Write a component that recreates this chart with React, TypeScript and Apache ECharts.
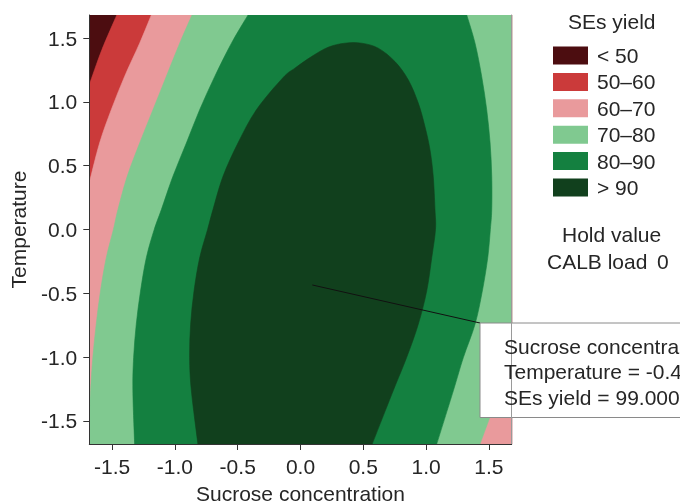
import React, { useEffect, useRef } from "react";
import * as echarts from "echarts";

// ---- axis data ----
const X_MIN = -1.682;
const X_MAX = 1.682;
const Y_MIN = -1.682;
const Y_MAX = 1.682;
const xTicks = [-1.5, -1.0, -0.5, 0.0, 0.5, 1.0, 1.5];
const yTicks = [-1.5, -1.0, -0.5, 0.0, 0.5, 1.0, 1.5];
const xName = "Sucrose concentration";
const yName = "Temperature";

// ---- legend / levels ----
const levelNames = ["< 50", "50–60", "60–70", "70–80", "80–90", "> 90"];
const levelColors = ["#4C0D10", "#CB3A3A", "#E99A9C", "#80C990", "#148040", "#11401D"];
const legendTitle = "SEs yield";
const holdTitle = "Hold value";
const holdName = "CALB load";
const holdValue = "0";

// ---- contour lines (data coordinates) ----
const contour50 = [[-1.463, 1.682], [-1.582, 1.409], [-1.682, 1.135]];
const contour60 = [
  [-1.188, 1.682], [-1.281, 1.461], [-1.401, 1.2], [-1.507, 0.939], [-1.6, 0.678], [-1.682, 0.365],
];
const contour70Left = [
  [-0.864, 1.682], [-0.962, 1.461], [-1.069, 1.2], [-1.175, 0.939], [-1.281, 0.678], [-1.38, 0.417],
  [-1.454, 0.156], [-1.49, 0.0], [-1.547, -0.222], [-1.593, -0.483], [-1.627, -0.743], [-1.654, -1.004],
  [-1.672, -1.265], [-1.682, -1.42],
];
const contour70Right = [[1.43, -1.682], [1.51, -1.469], [1.6, -1.25], [1.682, -1.02]];
const contour80Left = [
  [-0.418, 1.682], [-0.55, 1.461], [-0.683, 1.2], [-0.803, 0.939], [-0.909, 0.678], [-1.016, 0.417],
  [-1.108, 0.156], [-1.165, 0.0], [-1.228, -0.222], [-1.274, -0.483], [-1.308, -0.743], [-1.329, -1.004],
  [-1.335, -1.265], [-1.321, -1.682],
];
const contour80Right = [
  [1.085, -1.682], [1.217, -1.265], [1.297, -1.004], [1.39, -0.743], [1.448, -0.483], [1.491, -0.222],
  [1.512, 0.0], [1.523, 0.156], [1.523, 0.417], [1.51, 0.678], [1.483, 0.939], [1.443, 1.2],
  [1.39, 1.461], [1.324, 1.682],
];
const contour90 = [
  [-0.817, -1.682], [-0.869, -1.265], [-0.883, -1.004], [-0.875, -0.743], [-0.848, -0.483],
  [-0.803, -0.222], [-0.74, 0.0], [-0.697, 0.156], [-0.617, 0.417], [-0.498, 0.678], [-0.351, 0.939],
  [-0.14, 1.19], [-0.045, 1.265], [0.088, 1.356], [0.22, 1.429], [0.353, 1.461], [0.486, 1.461],
  [0.619, 1.422], [0.752, 1.317], [0.858, 1.174], [0.938, 0.991], [0.991, 0.808], [1.031, 0.626],
  [1.057, 0.417], [1.071, 0.156], [1.075, 0.0], [1.045, -0.222], [1.005, -0.483], [0.938, -0.743],
  [0.845, -1.004], [0.738, -1.265], [0.571, -1.682],
];

// ---- hovered point shown in the tooltip box ----
const hoverPoint = [0.094, -0.435];
const hoverYield = 99.0;

const TL = [X_MIN, Y_MAX];
const BL = [X_MIN, Y_MIN];
const BR = [X_MAX, Y_MIN];
const TR = [X_MAX, Y_MAX];

// superlevel regions (pieces: smooth contour runs joined by straight edges)
const regions: number[][][][] = [
  [[TL], [BL], [BR], [TR]],
  [contour50, [BL], [BR], [TR]],
  [contour60, [BL], [BR], [TR]],
  [contour70Left, [BL], contour70Right, [TR]],
  [contour80Left, contour80Right],
  [contour90],
];

const FONT = "'Liberation Sans', Arial, Helvetica, sans-serif";
const TXT = "#262626";

function piecePath(pts: number[][], first: boolean): string {
  let d = (first ? "M" : "L") + pts[0][0].toFixed(2) + " " + pts[0][1].toFixed(2);
  const n = pts.length;
  for (let i = 0; i < n - 1; i++) {
    const p0 = pts[Math.max(i - 1, 0)];
    const p1 = pts[i];
    const p2 = pts[i + 1];
    const p3 = pts[Math.min(i + 2, n - 1)];
    const c1x = p1[0] + (p2[0] - p0[0]) / 6;
    const c1y = p1[1] + (p2[1] - p0[1]) / 6;
    const c2x = p2[0] - (p3[0] - p1[0]) / 6;
    const c2y = p2[1] - (p3[1] - p1[1]) / 6;
    d += ` C${c1x.toFixed(2)} ${c1y.toFixed(2)} ${c2x.toFixed(2)} ${c2y.toFixed(2)} ${p2[0].toFixed(2)} ${p2[1].toFixed(2)}`;
  }
  return d;
}

function makeRender(pieces: number[][][], color: string) {
  return (_params: any, api: any) => {
    let d = "";
    pieces.forEach((piece, k) => {
      const px = piece.map((p) => api.coord(p));
      d += piecePath(px, k === 0) + " ";
    });
    d += "Z";
    return {
      type: "path",
      shape: { pathData: d },
      style: { fill: color, stroke: color, lineWidth: 0.6 },
    };
  };
}

export default function App() {
  const ref = useRef<HTMLDivElement>(null);
  useEffect(() => {
    if (!ref.current) return;
    const chart = echarts.init(ref.current, undefined, { renderer: "svg" });
    const axisCommon = {
      type: "value",
      nameLocation: "middle",
      z: 10,
      nameTextStyle: { fontSize: 21, color: TXT, fontFamily: FONT },
      splitLine: { show: false },
      axisLine: { show: true, onZero: false, lineStyle: { color: "#333", width: 1 } },
      axisTick: { show: true, length: 6, lineStyle: { color: "#333", width: 1 } },
    };
    chart.setOption({
      animation: false,
      textStyle: { fontFamily: FONT },
      grid: {
        left: 89.3,
        top: 15,
        width: 422.4,
        height: 429,
        containLabel: false,
        outerBoundsMode: "none",
      },
      xAxis: {
        ...axisCommon,
        min: X_MIN,
        max: X_MAX,
        name: xName,
        nameGap: 39,
        axisTick: { ...axisCommon.axisTick, customValues: xTicks },
        axisLabel: {
          customValues: xTicks,
          fontSize: 21,
          color: TXT,
          margin: 12,
          formatter: (v: number) => v.toFixed(1),
        },
      },
      yAxis: [
        {
          ...axisCommon,
          min: Y_MIN,
          max: Y_MAX,
          name: yName,
          nameGap: 60,
          axisTick: { ...axisCommon.axisTick, customValues: yTicks },
          axisLabel: {
            customValues: yTicks,
            fontSize: 21,
            color: TXT,
            margin: 12,
            formatter: (v: number) => v.toFixed(1),
          },
        },
        {
          type: "value",
          position: "right",
          min: Y_MIN,
          max: Y_MAX,
          z: 10,
          splitLine: { show: false },
          axisTick: { show: false },
          axisLabel: { show: false },
          axisLine: { show: true, onZero: false, lineStyle: { color: "#9a9a9a", width: 1 } },
        },
      ],
      legend: {
        data: levelNames,
        orient: "vertical",
        left: 553,
        top: 45,
        padding: 0,
        icon: "rect",
        itemWidth: 35,
        itemHeight: 18,
        itemGap: 5.4,
        selectedMode: false,
        textStyle: { fontSize: 21, color: TXT, padding: [0, 0, 0, 4], fontFamily: FONT },
      },
      series: levelNames.map((name, i) => ({
        type: "custom",
        name,
        clip: true,
        silent: true,
        itemStyle: { color: levelColors[i] },
        renderItem: makeRender(regions[i], levelColors[i]),
        data: [[0, 0]],
      })),
    });

    const hp = chart.convertToPixel({ xAxisIndex: 0, yAxisIndex: 0 }, hoverPoint) as number[];
    const boxX = 480;
    const boxY = 323;
    const tipLines = [
      `${xName} = ${hoverPoint[0].toFixed(4)}`,
      `${yName} = ${hoverPoint[1].toFixed(4)}`,
      `${legendTitle} = ${hoverYield.toFixed(4)}`,
    ];
    chart.setOption({
      graphic: [
        { type: "text", left: 568, top: 11, style: { text: legendTitle, fontSize: 21, fill: TXT, fontFamily: FONT } },
        { type: "text", left: 562, top: 224, style: { text: holdTitle, fontSize: 21, fill: TXT, fontFamily: FONT } },
        { type: "text", left: 547, top: 251, style: { text: holdName, fontSize: 21, fill: TXT, fontFamily: FONT } },
        { type: "text", left: 657, top: 251, style: { text: holdValue, fontSize: 21, fill: TXT, fontFamily: FONT } },
        {
          type: "line",
          shape: { x1: hp[0], y1: hp[1], x2: boxX, y2: boxY },
          style: { stroke: "#111", lineWidth: 1 },
          z: 10,
        },
        {
          type: "rect",
          shape: { x: boxX, y: boxY, width: 260, height: 94.5 },
          style: { fill: "#fff", stroke: "#8a8a8a", lineWidth: 1 },
          z: 10,
        },
        ...tipLines.map((t, i) => ({
          type: "text",
          x: 504,
          y: 346 + i * 25.5,
          z: 11,
          style: {
            text: t,
            fontSize: 21,
            fill: TXT,
            fontFamily: FONT,
            textVerticalAlign: "middle",
            width: 180,
            overflow: "truncate",
            ellipsis: "",
          },
        })),
      ],
    });
    return () => chart.dispose();
  }, []);
  return <div ref={ref} style={{ position: "fixed", left: 0, top: 0, width: 680, height: 504 }} />;
}
